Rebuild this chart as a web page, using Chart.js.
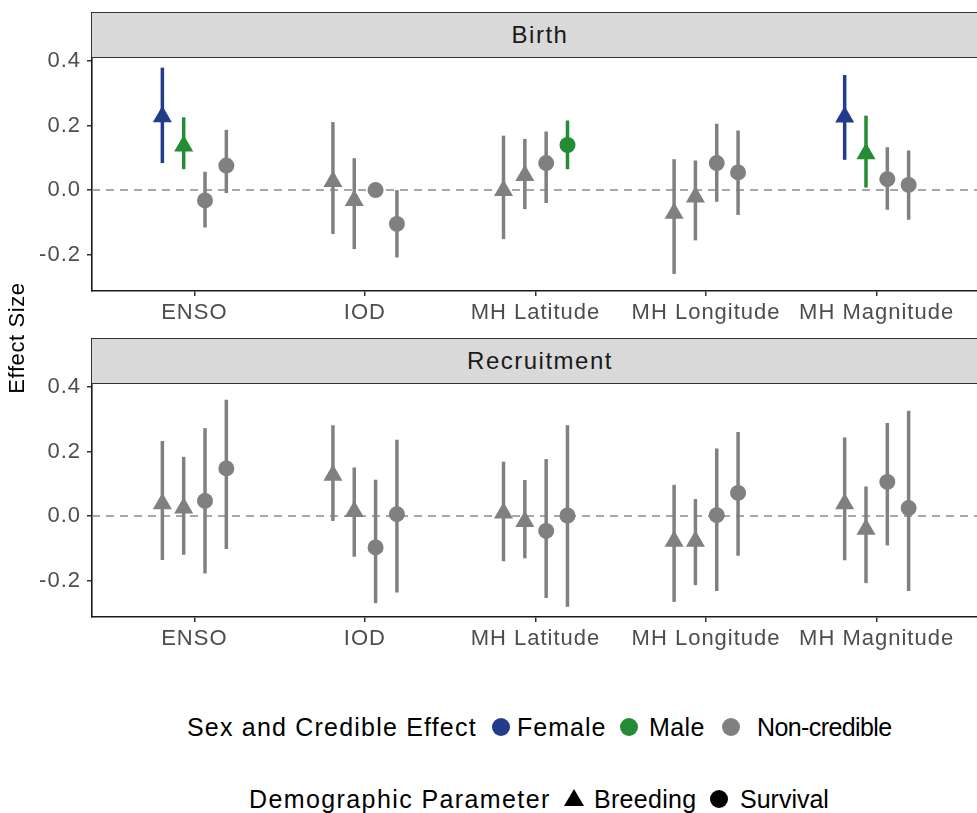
<!DOCTYPE html>
<html>
<head>
<meta charset="utf-8">
<script src="https://cdn.jsdelivr.net/npm/chart.js@4.4.1/dist/chart.umd.min.js"></script>
<style>
html,body{margin:0;padding:0;background:#fff;}
#wrap{position:relative;width:977px;height:813px;overflow:hidden;font-family:'Liberation Sans',Arial,Helvetica,sans-serif;}
canvas{position:absolute;left:0;}
.strip{position:absolute;left:91px;width:930px;height:46px;box-sizing:border-box;background:#d9d9d9;border:1.5px solid #333;z-index:2;}
.strip span{position:absolute;left:0;width:896px;text-align:center;top:0;line-height:43px;font-size:24px;letter-spacing:1.5px;color:#1a1a1a;}
.ytitle{position:absolute;left:-83px;top:323px;width:200px;height:30px;line-height:30px;text-align:center;font-size:22px;letter-spacing:0.6px;color:#000;transform:rotate(-90deg);}
.lg{position:absolute;font-size:25px;line-height:30px;color:#000;white-space:nowrap;}
.mk{position:absolute;}
</style>
</head>
<body>
<div id="wrap">
  <canvas id="birth" width="990" height="330" style="top:0;width:990px;height:330px"></canvas>
  <canvas id="recruit" width="990" height="330" style="top:326px;width:990px;height:330px"></canvas>
  <div class="strip" style="top:12px"><span>Birth</span></div>
  <div class="strip" style="top:338px"><span>Recruitment</span></div>
  <div class="ytitle">Effect Size</div>

  <div class="lg" style="left:187px;top:712px;letter-spacing:1.2px">Sex and Credible Effect</div>
  <svg class="mk" style="left:491px;top:717px" width="20" height="20"><circle cx="10" cy="10" r="9" fill="#233b8b"/></svg>
  <div class="lg" style="left:517px;top:712px;letter-spacing:1px">Female</div>
  <svg class="mk" style="left:619px;top:717px" width="20" height="20"><circle cx="10" cy="10" r="9" fill="#238c34"/></svg>
  <div class="lg" style="left:649px;top:712px;letter-spacing:0.4px">Male</div>
  <svg class="mk" style="left:721px;top:717px" width="20" height="20"><circle cx="10" cy="10" r="9" fill="#808080"/></svg>
  <div class="lg" style="left:757px;top:712px;letter-spacing:-0.6px">Non-credible</div>

  <div class="lg" style="left:249px;top:784px;letter-spacing:1.4px">Demographic Parameter</div>
  <svg class="mk" style="left:563px;top:788px" width="22" height="20"><polygon points="1,18 11,1 21,18" fill="#000"/></svg>
  <div class="lg" style="left:594px;top:784px;letter-spacing:0.3px">Breeding</div>
  <svg class="mk" style="left:709px;top:789px" width="20" height="20"><circle cx="10" cy="10" r="9" fill="#000"/></svg>
  <div class="lg" style="left:740px;top:784px">Survival</div>
</div>
<script>
// ---- data ----
const categories = ['ENSO', 'IOD', 'MH Latitude', 'MH Longitude', 'MH Magnitude'];
// dodge groups: Breeding-Female, Breeding-Male, Survival-Female, Survival-Male
const groupShape = ['triangle', 'triangle', 'circle', 'circle'];
const groupSex = ['Female', 'Male', 'Female', 'Male'];
const yTicks = [-0.2, 0, 0.2, 0.4];
const yTickLabels = ['-0.2', '0.0', '0.2', '0.4'];

const birthEst = [
  [0.228, 0.137, -0.032, 0.076],
  [0.027, -0.032, 0.000, -0.105],
  [-0.001, 0.045, 0.084, 0.140],
  [-0.072, -0.021, 0.084, 0.055],
  [0.227, 0.113, 0.034, 0.016]
];
const birthLo = [
  [0.084, 0.065, -0.116, -0.009],
  [-0.136, -0.183, -0.005, -0.209],
  [-0.152, -0.059, -0.040, 0.065],
  [-0.260, -0.156, -0.036, -0.077],
  [0.094, 0.008, -0.061, -0.092]
];
const birthHi = [
  [0.380, 0.226, 0.057, 0.187],
  [0.211, 0.099, 0.005, 0.000],
  [0.169, 0.159, 0.182, 0.216],
  [0.096, 0.092, 0.206, 0.185],
  [0.357, 0.231, 0.133, 0.123]
];
const birthCredible = [
  [1, 1, 0, 0],
  [0, 0, 0, 0],
  [0, 0, 0, 1],
  [0, 0, 0, 0],
  [1, 1, 0, 0]
];

const recruitEst = [
  [0.038, 0.025, 0.047, 0.148],
  [0.127, 0.014, -0.097, 0.006],
  [0.010, -0.017, -0.046, 0.002],
  [-0.078, -0.078, 0.003, 0.072],
  [0.038, -0.041, 0.106, 0.025]
];
const recruitLo = [
  [-0.136, -0.120, -0.178, -0.102],
  [-0.015, -0.126, -0.270, -0.237],
  [-0.140, -0.131, -0.254, -0.281],
  [-0.266, -0.214, -0.232, -0.123],
  [-0.137, -0.208, -0.091, -0.232]
];
const recruitHi = [
  [0.233, 0.184, 0.273, 0.361],
  [0.282, 0.151, 0.113, 0.237],
  [0.169, 0.112, 0.177, 0.282],
  [0.097, 0.053, 0.210, 0.261],
  [0.244, 0.092, 0.289, 0.327]
];
const recruitCredible = [
  [0, 0, 0, 0],
  [0, 0, 0, 0],
  [0, 0, 0, 0],
  [0, 0, 0, 0],
  [0, 0, 0, 0]
];

// ---- styling ----
const COLORS = { Female: '#233b8b', Male: '#238c34', None: '#808080' };
const FONT = "'Liberation Sans', Arial, Helvetica, sans-serif";
const DODGE = 0.125;
Chart.defaults.font.family = FONT;

function colorFor(cred, g) { return cred ? COLORS[groupSex[g]] : COLORS.None; }
function off(g) { return (g - 1.5) * DODGE; }

const spacing = {
  id: 'spacing',
  beforeDraw(chart) { try { chart.ctx.letterSpacing = '1px'; } catch (e) {} }
};

const zeroLine = {
  id: 'zeroLine',
  beforeDatasetsDraw(chart) {
    const { ctx, chartArea: a, scales: { y } } = chart;
    const py = y.getPixelForValue(0);
    ctx.save();
    ctx.strokeStyle = '#8a8a8a';
    ctx.lineWidth = 1.5;
    ctx.setLineDash([8, 6]);
    ctx.beginPath();
    ctx.moveTo(a.left, py);
    ctx.lineTo(a.right, py);
    ctx.stroke();
    ctx.restore();
  }
};

function makeChart(id, est, lo, hi, cred) {
  const datasets = [];
  for (let g = 0; g < 4; g++) {
    const isTri = groupShape[g] === 'triangle';
    datasets.push({
      type: 'line',
      showLine: false,
      order: 0,
      data: categories.map((c, i) => ({ x: i + off(g), y: est[i][g] })),
      pointStyle: groupShape[g],
      pointRadius: isTri ? 11 : 8,
      pointHoverRadius: isTri ? 11 : 8,
      pointBorderWidth: 0,
      pointBackgroundColor: categories.map((c, i) => colorFor(cred[i][g], g)),
      pointBorderColor: categories.map((c, i) => colorFor(cred[i][g], g))
    });
    const barData = [];
    categories.forEach((c, i) => {
      barData.push({ x: i + off(g), y: lo[i][g] });
      barData.push({ x: i + off(g), y: hi[i][g] });
      barData.push({ x: i + off(g), y: null });
    });
    datasets.push({
      type: 'line',
      order: 1,
      data: barData,
      spanGaps: false,
      pointRadius: 0,
      pointHoverRadius: 0,
      borderWidth: 3.5,
      borderCapStyle: 'butt',
      borderColor: COLORS.None,
      segment: { borderColor: ctx => colorFor(cred[Math.floor(ctx.p0DataIndex / 3)][g], g) }
    });
  }
  const axisCommon = {
    grid: { drawOnChartArea: false, drawTicks: true, tickLength: 5, color: '#333', lineWidth: 1.5 },
    border: { display: true, color: '#1a1a1a', width: 1.6 }
  };
  return new Chart(document.getElementById(id), {
    type: 'line',
    data: { datasets },
    plugins: [spacing, zeroLine],
    options: {
      responsive: false,
      animation: false,
      events: [],
      layout: { padding: { top: 57, right: 4, bottom: 0, left: 0 } },
      plugins: { legend: { display: false }, tooltip: { enabled: false } },
      scales: {
        x: Object.assign({
          type: 'linear', min: -0.6, max: 4.6,
          afterBuildTicks: s => { s.ticks = categories.map((c, i) => ({ value: i })); },
          afterFit: s => { s.height = 39; },
          ticks: { autoSkip: false, maxRotation: 0, padding: 4, color: '#4d4d4d', font: { size: 22 },
                   callback: v => categories[Math.round(v)] }
        }, axisCommon),
        y: Object.assign({
          type: 'linear', min: -0.313, max: 0.413,
          afterBuildTicks: s => { s.ticks = yTicks.map(v => ({ value: v })); },
          afterFit: s => { s.width = 92; },
          ticks: { padding: 6, color: '#4d4d4d', font: { size: 22 },
                   callback: v => yTickLabels[yTicks.findIndex(t => Math.abs(t - v) < 1e-9)] }
        }, axisCommon)
      }
    }
  });
}

makeChart('birth', birthEst, birthLo, birthHi, birthCredible);
makeChart('recruit', recruitEst, recruitLo, recruitHi, recruitCredible);
</script>
</body>
</html>
